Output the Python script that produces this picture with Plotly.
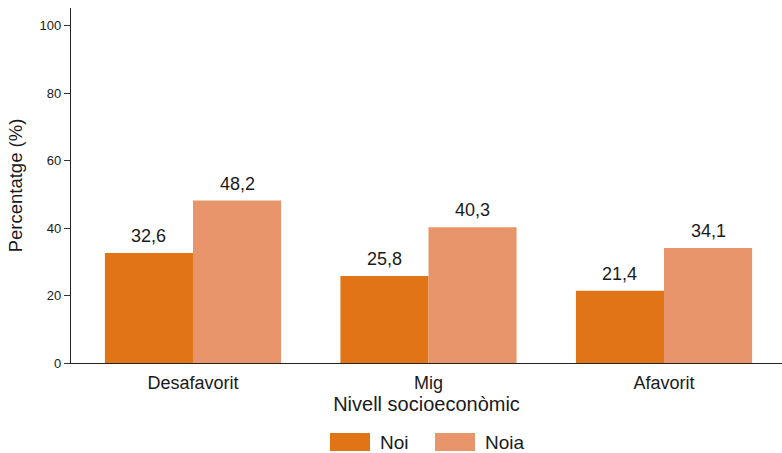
import plotly.graph_objects as go

# Data
categories = ["Desafavorit", "Mig", "Afavorit"]
noi = [32.6, 25.8, 21.4]
noia = [48.2, 40.3, 34.1]
series_names = ["Noi", "Noia"]
y_ticks = [0, 20, 40, 60, 80, 100]

colors = {"Noi": "#E07416", "Noia": "#E8956B"}
FONT = "Liberation Sans, Arial, sans-serif"
TXT = "#1a1a1a"

bar_w = 0.374
x_idx = list(range(len(categories)))

fig = go.Figure()
for name, vals, off in [("Noi", noi, -bar_w), ("Noia", noia, 0.0)]:
    fig.add_trace(go.Bar(
        x=x_idx, y=vals, name=name, width=bar_w, offset=off,
        marker=dict(color=colors[name], line=dict(width=0)),
        showlegend=False,
    ))

# Value labels above each bar
annotations = []
for vals, sign in [(noi, -1), (noia, 1)]:
    for i, v in zip(x_idx, vals):
        annotations.append(dict(
            x=i + sign * bar_w / 2, y=v, xref="x", yref="y",
            text=f"{v:.1f}".replace(".", ","), showarrow=False,
            yanchor="bottom", yshift=5,
            font=dict(family=FONT, size=18, color=TXT),
        ))

# Legend drawn as swatches with labels below the plot
legend_items = [("Noi", 330, 380), ("Noia", 435, 485)]
shapes = []
W, H = 782, 453
ml, mr, mt, mb = 71, 0, 8, 90
pw, ph = W - ml - mr, H - mt - mb
def px_to_paper_x(px):
    return (px - ml) / pw
def px_to_paper_y(py):
    return (H - mb - py) / ph
for name, sx, tx in legend_items:
    shapes.append(dict(
        type="rect", xref="paper", yref="paper",
        x0=px_to_paper_x(sx), x1=px_to_paper_x(sx + 40),
        y0=px_to_paper_y(451), y1=px_to_paper_y(433),
        fillcolor=colors[name], line=dict(width=0), layer="above",
    ))
    annotations.append(dict(
        x=px_to_paper_x(tx - 2), y=px_to_paper_y(442), xref="paper", yref="paper",
        text=name, showarrow=False, xanchor="left", yanchor="middle",
        font=dict(family=FONT, size=19, color=TXT),
    ))

fig.update_layout(
    width=W, height=H,
    margin=dict(l=ml, r=mr, t=mt, b=mb, pad=0),
    plot_bgcolor="white", paper_bgcolor="white",
    font=dict(family=FONT, color=TXT),
    bargap=0.25,
    annotations=annotations,
    shapes=shapes,
    xaxis=dict(
        tickmode="array", tickvals=x_idx, ticktext=categories,
        range=[-0.518, 2.501],
        showline=True, linecolor="#222", linewidth=1.3,
        ticks="", showgrid=False, zeroline=False,
        tickfont=dict(family=FONT, size=18, color=TXT),
        ticklabelstandoff=3,
        title=dict(text="Nivell socioeconòmic",
                   font=dict(family=FONT, size=20, color=TXT), standoff=0),
    ),
    yaxis=dict(
        range=[0, 105.3], tickvals=y_ticks,
        showline=True, linecolor="#222", linewidth=1.3,
        ticks="outside", ticklen=6, tickcolor="#333", tickwidth=1,
        showgrid=False, zeroline=False,
        tickfont=dict(family=FONT, size=13, color=TXT),
        title=dict(text="Percentatge (%)",
                   font=dict(family=FONT, size=18.5, color=TXT), standoff=12),
    ),
)

fig.write_html("out.html")
